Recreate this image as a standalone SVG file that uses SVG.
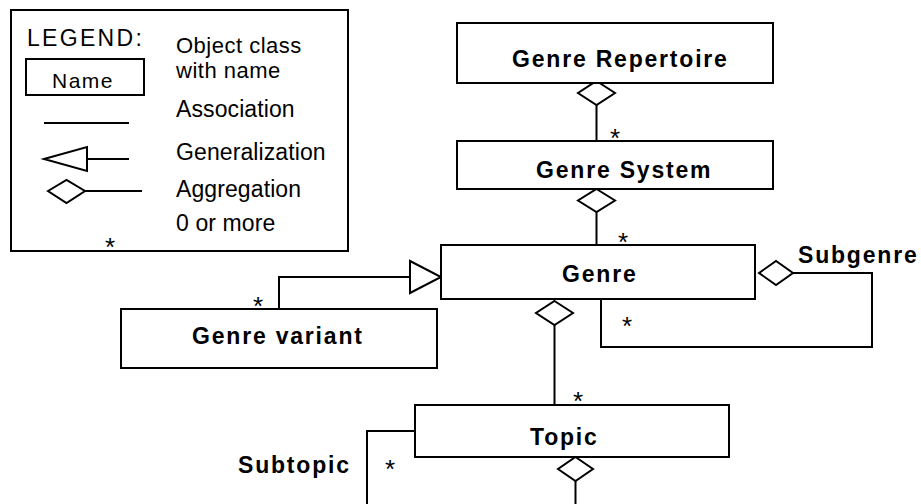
<svg xmlns="http://www.w3.org/2000/svg" width="921" height="504" viewBox="0 0 921 504">
  <style>
    .box { fill: #ffffff; stroke: #000000; stroke-width: 2; }
    .ln { fill: none; stroke: #000000; stroke-width: 2; }
    .head { fill: #ffffff; stroke: #000000; stroke-width: 2; stroke-linejoin: miter; }
    .lbl { font-family: "Liberation Sans", Arial, sans-serif; font-weight: bold; font-size: 23px; letter-spacing: 1.8px; fill: #000000; }
    .leg { font-family: "Liberation Sans", Arial, sans-serif; font-size: 23px; letter-spacing: 0.1px; fill: #000000; }
    .star { font-family: "Liberation Sans", Arial, sans-serif; font-size: 26px; fill: #000000; text-anchor: middle; }
  </style>
  <rect width="921" height="504" fill="#ffffff"/>

  <!-- Legend panel -->
  <g id="legend">
    <rect class="box" x="11" y="10" width="337" height="241"/>
    <text class="leg" x="27" y="46" style="letter-spacing:2.3px">LEGEND:</text>
    <rect class="box" x="26" y="59" width="118" height="36"/>
    <text class="leg" x="52" y="88" style="font-size:21px;letter-spacing:1.5px">Name</text>
    <line class="ln" x1="44" y1="123" x2="129" y2="123"/>
    <polygon class="head" points="44,159 87,147 87,171"/>
    <line class="ln" x1="87" y1="159" x2="129" y2="159"/>
    <polygon class="head" points="48,191 66.5,180 85,191 66.5,203"/>
    <line class="ln" x1="85" y1="191" x2="142" y2="191"/>
    <text class="star" x="110" y="256">*</text>
    <text class="leg" x="176" y="53" style="font-size:22px;letter-spacing:0.5px">Object class</text>
    <text class="leg" x="176" y="78" style="font-size:22px;letter-spacing:0.5px">with name</text>
    <text class="leg" x="176" y="117">Association</text>
    <text class="leg" x="176" y="160">Generalization</text>
    <text class="leg" x="176" y="197">Aggregation</text>
    <text class="leg" x="176" y="231">0 or more</text>
  </g>

  <!-- Connectors -->
  <g id="connectors">
    <!-- Genre Repertoire aggregates Genre System -->
    <line class="ln" x1="596.5" y1="105" x2="596.5" y2="141"/>
    <polygon class="head" points="596.5,81 615,93 596.5,105 578,93"/>
    <text class="star" x="615" y="147">*</text>

    <!-- Genre System aggregates Genre -->
    <line class="ln" x1="596.5" y1="212" x2="596.5" y2="245"/>
    <polygon class="head" points="596.5,189 615,200.5 596.5,212 578,200.5"/>
    <text class="star" x="623" y="251">*</text>

    <!-- Genre variant generalizes to Genre -->
    <polyline class="ln" points="279,309 279,277 410,277"/>
    <polygon class="head" points="410,261 441,277 410,293"/>
    <text class="star" x="258" y="315">*</text>

    <!-- Subgenre self-aggregation -->
    <polyline class="ln" points="793,273 872,273 872,347 601,347 601,299"/>
    <polygon class="head" points="759,273 776,261 793,273 776,285"/>
    <text class="star" x="627" y="335">*</text>
    <text class="lbl" x="798" y="263">Subgenre</text>

    <!-- Genre aggregates Topic -->
    <line class="ln" x1="554.5" y1="325" x2="554.5" y2="405"/>
    <polygon class="head" points="554.5,301 573,313 554.5,325 536,313"/>
    <text class="star" x="578" y="410">*</text>

    <!-- Subtopic self-aggregation -->
    <polyline class="ln" points="415,431 367,431 367,510"/>
    <line class="ln" x1="575.5" y1="481" x2="575.5" y2="510"/>
    <polygon class="head" points="575.5,457 593,469 575.5,481 558,469"/>
    <text class="star" x="390" y="478">*</text>
    <text class="lbl" x="238" y="473">Subtopic</text>
  </g>

  <!-- Classes -->
  <g id="genre-repertoire">
    <rect class="box" x="457" y="23" width="316" height="60"/>
    <text class="lbl" x="512" y="67">Genre Repertoire</text>
  </g>
  <g id="genre-system">
    <rect class="box" x="457" y="141" width="316" height="48"/>
    <text class="lbl" x="536" y="178">Genre System</text>
  </g>
  <g id="genre">
    <rect class="box" x="441" y="245" width="314" height="54"/>
    <text class="lbl" x="562" y="282">Genre</text>
  </g>
  <g id="genre-variant">
    <rect class="box" x="121" y="309" width="316" height="59"/>
    <text class="lbl" x="192" y="344">Genre variant</text>
  </g>
  <g id="topic">
    <rect class="box" x="415" y="405" width="314" height="52"/>
    <text class="lbl" x="530" y="445">Topic</text>
  </g>
</svg>
